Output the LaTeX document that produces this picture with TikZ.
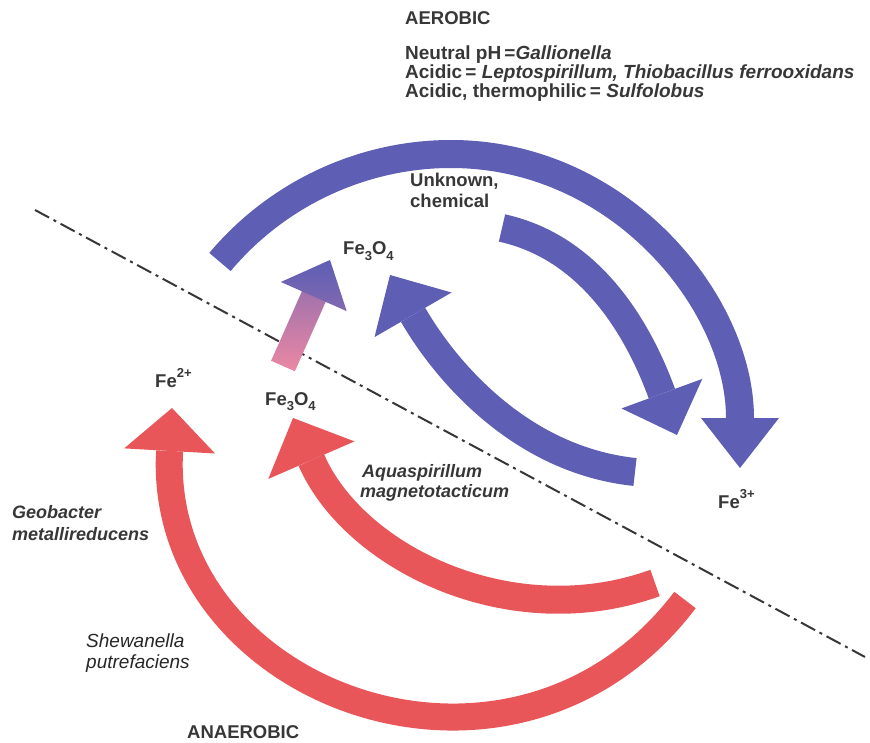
\documentclass[tikz,border=0pt]{standalone}
\usepackage{fontspec}
\setmainfont{Liberation Sans}
\usetikzlibrary{arrows.meta,calc}
\definecolor{bandblue}{RGB}{94,94,180}
\definecolor{bandred}{RGB}{232,86,90}
\definecolor{bandpink}{RGB}{236,136,164}
\definecolor{labelgray}{RGB}{55,55,55}
\newcommand\chemup[1]{\raisebox{0.5em}{\fontsize{13}{13}\selectfont #1}}
\newcommand\chemdn[1]{\raisebox{-0.3em}{\fontsize{13}{13}\selectfont #1}}
\tikzset{
  lbl/.style={anchor=base west, inner sep=0pt, text=labelgray, font=\bfseries\fontsize{18.5}{20}\selectfont},
  toplbl/.style={lbl, font=\bfseries\fontsize{19}{20}\selectfont},
  bug/.style={lbl, font=\bfseries\itshape\fontsize{18}{20}\selectfont},
  plainbug/.style={lbl, text=black!85, font=\itshape\fontsize{19}{20}\selectfont},
  band/.style={line width=28pt, draw=#1},
  head/.style 2 args={-{Triangle[width=#1,length=#2,line width=0pt]}},
}
\begin{document}
\begin{tikzpicture}[x=1pt,y=-1pt]
  \useasboundingbox (0,0) rectangle (870,743);
  % boundary aerobic / anaerobic
  \coordinate (zl) at (35,210);
  \coordinate (zr) at (865,657);
  \draw[labelgray, line width=2pt, dash pattern=on 16pt off 5pt on 3pt off 5pt] (zl) -- (zr);

  % Labels (top to bottom)
  \node[lbl] (aer) at (405,25) {AEROBIC};
  \node[toplbl] (neu) at (405,60) {Neutral pH\,=\textit{Gallionella}};
  \node[toplbl] (aci) at (405,79) {Acidic\,= \textit{Leptospirillum, Thiobacillus ferrooxidans}};
  \node[toplbl] (the) at (405,98) {Acidic, thermophilic\,= \textit{Sulfolobus}};
  \node[lbl] (unk) at (410,187) {Unknown,};
  \node[lbl] (che) at (410,208) {chemical};
  \node[lbl] (mghi) at (343,255) {Fe\chemdn{3}O\chemdn{4}};
  \node[lbl] (fe2) at (155,387) {Fe\chemup{2+}};
  \node[lbl] (mglo) at (265,405) {Fe\chemdn{3}O\chemdn{4}};
  \node[lbl] (fe3) at (718,508) {Fe\chemup{3+}};
  \node[bug] (aqa) at (362,477) {Aquaspirillum};
  \node[bug] (aqb) at (360,497) {magnetotacticum};
  \node[bug] (gba) at (12,518) {Geobacter};
  \node[bug] (gbb) at (12,540) {metallireducens};
  \node[plainbug] (swa) at (86,647) {Shewanella};
  \node[plainbug] (swb) at (86,668) {putrefaciens};
  \node[lbl] (ana) at (187,738) {ANAEROBIC};

  % Arrow end points
  \coordinate (oxtail) at (220,262);
  \coordinate (oxtop) at (451,154);
  \coordinate (oxtip) at (740,468);
  \coordinate (mgtail) at (502,228);
  \coordinate (mgtip) at (677,435);
  \coordinate (rdtail) at (635,472);
  \coordinate (rdtip) at (390,275);
  \coordinate (gbtail) at (685,600);
  \coordinate (gbtip) at (172,408);
  \coordinate (aqtail) at (655,583);
  \coordinate (aqtip) at (293,418);
  \coordinate (mttail) at (283,366);
  \coordinate (mttip) at (330,260);
  \coordinate (mtbase) at ($(mttip)!40pt!(mttail)$);
  \coordinate (mtneck) at ($(mttip)!36pt!(mttail)$);

  % Blue arrows
  \draw[band=bandblue, head={78pt}{50pt}] (oxtail) .. controls (277,194) and (362,154) .. (oxtop)
    .. controls (620,154) and (740,303) .. (oxtip);
  \draw[band=bandblue, head={86pt}{44pt}] (mgtail) .. controls (598,249) and (643,342) .. (mgtip);
  \draw[band=bandblue, head={89pt}{46pt}] (rdtail) .. controls (520,460) and (445,370) .. (rdtip);

  % Red arrows
  \draw[band=bandred, line width=27pt, head={91pt}{43pt}] (gbtail) .. controls (512,828) and (156,693) .. (gbtip);
  \draw[band=bandred, head={94pt}{46pt}] (aqtail) .. controls (511,635) and (354,558) .. (aqtip);

  % Pink to blue arrow
  \shade[bottom color=bandpink, top color=bandblue!55!bandpink]
    ($(mttail)!13pt!90:(mttip)$) -- ($(mttail)!13pt!-90:(mttip)$)
    -- ($(mtneck)!13pt!-90:(mttip)$) -- ($(mtneck)!13pt!90:(mttip)$) -- cycle;
  \shade[bottom color=bandblue!75!bandpink, top color=bandblue]
    ($(mtbase)!36pt!90:(mttip)$) -- (mttip) -- ($(mtbase)!36pt!-90:(mttip)$) -- cycle;
\end{tikzpicture}
\end{document}
